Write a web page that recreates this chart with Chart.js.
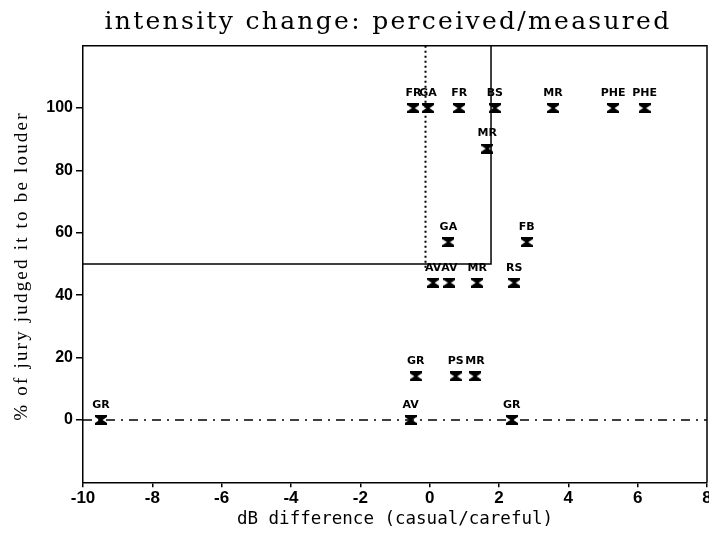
<!DOCTYPE html>
<html>
<head>
<meta charset="utf-8">
<script src="https://cdn.jsdelivr.net/npm/chart.js@4"></script>
<style>
  html, body { margin: 0; padding: 0; background: #fff; }
  #wrap { width: 709px; height: 533px; }
</style>
</head>
<body>
<div id="wrap"><canvas id="c" width="709" height="533"></canvas></div>
<script>
// ---- data ----
const pointLabels = ['FR','GA','FR','BS','MR','PHE','PHE','MR','GA','FB','AV','AV','MR','RS','GR','PS','MR','GR','AV','GR'];
const dbDiff      = [-0.47,-0.05,0.85,1.88,3.56,5.29,6.20,1.66,0.54,2.80,0.10,0.57,1.37,2.44,-0.40,0.75,1.31,-9.48,-0.55,2.37];
const juryPct     = [100,100,100,100,100,100,100,87,57,57,44,44,44,44,14,14,14,0,0,0];
const xTicks = [-10,-8,-6,-4,-2,0,2,4,6,8];
const yTicks = [0,20,40,60,80,100];
const thresholdPct = 50;
const thresholdDb = 1.77;
const dottedDb = -0.12;
const dottedBottomPct = 48;
const xRange = [-10, 8];
const yRange = [-20, 120];
const chartTitle = 'intensity change: perceived/measured';
const xTitle = 'dB difference (casual/careful)';
const yTitle = '% of jury judged it to be louder';

// ---- marker image (hourglass "X") ----
function makeMarker() {
  const c = document.createElement('canvas');
  c.width = 12; c.height = 10;
  const g = c.getContext('2d');
  g.fillStyle = '#000';
  g.beginPath();
  g.moveTo(0,0); g.lineTo(12,0); g.lineTo(12,2); g.lineTo(7.5,5);
  g.lineTo(12,8); g.lineTo(12,10); g.lineTo(0,10); g.lineTo(0,8);
  g.lineTo(4.5,5); g.lineTo(0,2); g.closePath();
  g.fill();
  return c;
}
const marker = makeMarker();

const points = dbDiff.map((x, i) => ({ x: x, y: juryPct[i] }));

const labelPlugin = {
  id: 'pointLabels',
  afterDatasetsDraw(chart) {
    const ctx = chart.ctx;
    const meta = chart.getDatasetMeta(0);
    ctx.save();
    ctx.fillStyle = '#000';
    ctx.font = 'bold 11px "DejaVu Sans"';
    ctx.textAlign = 'center';
    ctx.textBaseline = 'middle';
    meta.data.forEach((el, i) => {
      ctx.fillText(pointLabels[i], el.x, el.y - 15);
    });
    ctx.restore();
  }
};

const textPlugin = {
  id: 'titles',
  afterDraw(chart) {
    const a = chart.chartArea, ctx = chart.ctx;
    ctx.save();
    ctx.fillStyle = '#000';
    // frame top/right
    ctx.strokeStyle = '#000';
    ctx.lineWidth = 1.5;
    ctx.beginPath();
    ctx.moveTo(a.left, a.top);
    ctx.lineTo(a.right, a.top);
    ctx.lineTo(a.right, a.bottom);
    ctx.stroke();
    // main title
    ctx.font = '25px "DejaVu Serif"';
    ctx.letterSpacing = '2.3px';
    ctx.textAlign = 'center';
    ctx.textBaseline = 'alphabetic';
    ctx.fillText(chartTitle, 388, 29);
    // x title
    ctx.font = '17.5px "DejaVu Sans Mono"';
    ctx.letterSpacing = '0px';
    ctx.textBaseline = 'middle';
    ctx.fillText(xTitle, (a.left + a.right) / 2, 519);
    // y title
    ctx.font = '19px "Liberation Serif"';
    ctx.letterSpacing = '2.2px';
    ctx.translate(22, (a.top + a.bottom) / 2 + 2);
    ctx.rotate(-Math.PI / 2);
    ctx.fillText(yTitle, 0, 0);
    ctx.restore();
  }
};

Chart.defaults.color = '#000';
Chart.defaults.animation = false;

new Chart(document.getElementById('c'), {
  type: 'scatter',
  data: {
    datasets: [
      {
        data: points,
        pointStyle: marker,
        pointRadius: 6,
        pointHoverRadius: 6
      },
      {
        data: [{x: xRange[0], y: thresholdPct}, {x: thresholdDb, y: thresholdPct}, {x: thresholdDb, y: yRange[1]}],
        showLine: true, borderColor: '#000', borderWidth: 1.5, pointRadius: 0, fill: false
      },
      {
        data: [{x: dottedDb, y: yRange[1]}, {x: dottedDb, y: dottedBottomPct}],
        showLine: true, borderColor: '#000', borderWidth: 2, borderDash: [2, 3], pointRadius: 0, fill: false
      },
      {
        data: [{x: xRange[0], y: 0}, {x: xRange[1], y: 0}],
        showLine: true, borderColor: '#000', borderWidth: 1.5, borderDash: [9, 6, 2, 6], pointRadius: 0, fill: false
      }
    ]
  },
  options: {
    responsive: false,
    layout: { autoPadding: false, padding: { left: 0, right: 2, top: 45.7, bottom: 0 } },
    plugins: {
      legend: { display: false },
      tooltip: { enabled: false },
      title: { display: false }
    },
    scales: {
      x: {
        type: 'linear',
        min: xRange[0], max: xRange[1],
        afterBuildTicks(scale) { scale.ticks = xTicks.map(v => ({ value: v })); },
        afterFit(scale) { scale.height = 50.7; scale.paddingLeft = 0; scale.paddingRight = 0; },
        grid: { drawOnChartArea: false, drawTicks: true, tickLength: 5, color: '#000', lineWidth: 1.5 },
        border: { display: true, color: '#000', width: 1.5 },
        ticks: { font: { family: '"Liberation Sans"', size: 17, weight: 'bold' }, padding: 1, maxRotation: 0, autoSkip: false },
        title: { display: false }
      },
      y: {
        type: 'linear',
        min: yRange[0], max: yRange[1],
        afterBuildTicks(scale) { scale.ticks = yTicks.map(v => ({ value: v })); },
        afterFit(scale) { scale.width = 83; scale.paddingTop = 0; scale.paddingBottom = 0; },
        grid: { drawOnChartArea: false, drawTicks: true, tickLength: 7, color: '#000', lineWidth: 1.5 },
        border: { display: true, color: '#000', width: 1.5 },
        ticks: { font: { family: '"Liberation Sans"', size: 16, weight: 'bold' }, padding: 3 },
        title: { display: false }
      }
    }
  },
  plugins: [labelPlugin, textPlugin]
});
</script>
</body>
</html>
